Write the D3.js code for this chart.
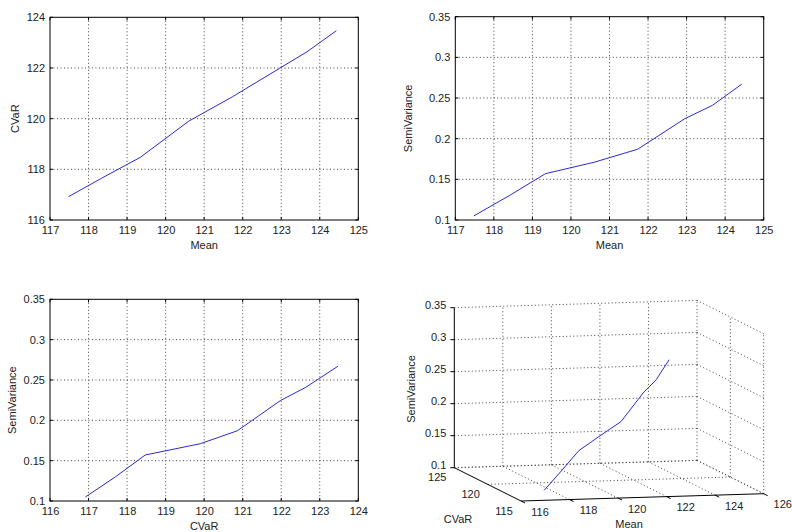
<!DOCTYPE html>
<html>
<head>
<meta charset="utf-8">
<script src="https://cdn.jsdelivr.net/npm/d3@7"></script>
<style>
  body { margin: 0; background: #fff; }
  svg { display: block; }
  text { font-family: "Liberation Sans", Arial, sans-serif; font-size: 11px; fill: #222; }
</style>
</head>
<body>
<svg width="792" height="532"></svg>
<script>
// frontier points
const meanVals = [117.48, 118.40, 119.34, 120.60, 121.73, 122.95, 123.67, 124.43]
const cvarVals = [116.92, 117.70, 118.47, 119.90, 120.86, 121.98, 122.64, 123.47]
const semiVals = [0.105, 0.130, 0.157, 0.171, 0.187, 0.2245, 0.241, 0.267]

const meanTicks = [117, 118, 119, 120, 121, 122, 123, 124, 125]
const cvarTicks = [116, 117, 118, 119, 120, 121, 122, 123, 124]
const cvarTicksY = [116, 118, 120, 122, 124]
const semiTicks = [0.1, 0.15, 0.2, 0.25, 0.3, 0.35]

const mean3dTicks = [116, 118, 120, 122, 124, 126]
const cvar3dTicks = [115, 120, 125]

const lineColor = "#2b2bd0"
const svg = d3.select("svg")

function panel2d(box, xs, ys, xTicks, yTicks, xLabel, yLabel, yLabelX) {
    const x = d3.scaleLinear().domain([xTicks[0], xTicks[xTicks.length - 1]]).range([box.x0, box.x1])
    const y = d3.scaleLinear().domain([yTicks[0], yTicks[yTicks.length - 1]]).range([box.y1, box.y0])
    const g = svg.append("g")

    // dotted grid
    g.selectAll(".gx").data(xTicks.slice(1, -1)).enter().append("line")
        .attr("x1", d => x(d)).attr("x2", d => x(d))
        .attr("y1", box.y0).attr("y2", box.y1)
        .attr("stroke", "#444").attr("stroke-dasharray", "1,2.5")
    g.selectAll(".gy").data(yTicks.slice(1, -1)).enter().append("line")
        .attr("y1", d => y(d)).attr("y2", d => y(d))
        .attr("x1", box.x0).attr("x2", box.x1)
        .attr("stroke", "#444").attr("stroke-dasharray", "1,2.5")

    // inner ticks
    g.selectAll(".tb").data(xTicks).enter().append("path")
        .attr("d", d => "M" + x(d) + "," + box.y1 + "v-3M" + x(d) + "," + box.y0 + "v3")
        .attr("stroke", "#000")
    g.selectAll(".tl").data(yTicks).enter().append("path")
        .attr("d", d => "M" + box.x0 + "," + y(d) + "h3M" + box.x1 + "," + y(d) + "h-3")
        .attr("stroke", "#000")

    g.append("rect")
        .attr("x", box.x0).attr("y", box.y0)
        .attr("width", box.x1 - box.x0).attr("height", box.y1 - box.y0)
        .attr("fill", "none").attr("stroke", "#000")

    const xa = g.append("g").attr("transform", "translate(0," + box.y1 + ")")
        .call(d3.axisBottom(x).tickValues(xTicks).tickSize(0).tickPadding(6).tickFormat(d3.format("d")))
    const ya = g.append("g").attr("transform", "translate(" + box.x0 + ",0)")
        .call(d3.axisLeft(y).tickValues(yTicks).tickSize(0).tickPadding(5).tickFormat(d => String(+d.toFixed(2))))
    xa.select(".domain").remove()
    ya.select(".domain").remove()
    g.selectAll(".tick text").attr("font-size", "11px").attr("fill", "#222")
        .attr("font-family", "Liberation Sans, Arial, sans-serif")

    const pts = xs.map((v, i) => [v, ys[i]])
    g.append("path").datum(pts)
        .attr("d", d3.line().x(d => x(d[0])).y(d => y(d[1])))
        .attr("fill", "none").attr("stroke", lineColor).attr("stroke-width", 1)

    g.append("text").attr("x", (box.x0 + box.x1) / 2).attr("y", box.y1 + 29)
        .attr("text-anchor", "middle").text(xLabel)
    g.append("text").attr("transform", "translate(" + yLabelX + "," + (box.y0 + box.y1) / 2 + ") rotate(-90)")
        .attr("text-anchor", "middle").text(yLabel)
}

panel2d({x0: 50, x1: 358.3, y0: 17.3, y1: 220}, meanVals, cvarVals, meanTicks, cvarTicksY, "Mean", "CVaR", 19)
panel2d({x0: 455.3, x1: 763.7, y0: 16.7, y1: 220}, meanVals, semiVals, meanTicks, semiTicks, "Mean", "SemiVariance", 411.5)
panel2d({x0: 50, x1: 358.3, y0: 299.3, y1: 501}, cvarVals, semiVals, cvarTicks, semiTicks, "CVaR", "SemiVariance", 15.5)

// 3d panel: oblique projection of (mean, cvar, semivariance)
const m3 = d3.scaleLinear().domain([116, 126]).range([0, 1])
const c3 = d3.scaleLinear().domain([115, 125]).range([0, 1])
const z3 = d3.scaleLinear().domain([0.1, 0.35]).range([0, -160])
const origin = [521, 501]
const eM = [242.7, -7.3]
const eC = [-66.7, -33.3]
function P(m, c, z) {
    return [origin[0] + m3(m) * eM[0] + c3(c) * eC[0],
            origin[1] + m3(m) * eM[1] + c3(c) * eC[1] + z3(z)]
}

const g3 = svg.append("g")
const segs = []
semiTicks.forEach(z => {
    segs.push([P(116, 125, z), P(126, 125, z)])
    segs.push([P(126, 125, z), P(126, 115, z)])
})
mean3dTicks.slice(1).forEach(m => {
    segs.push([P(m, 125, 0.1), P(m, 125, 0.35)])
    segs.push([P(m, 115, 0.1), P(m, 125, 0.1)])
})
cvar3dTicks.slice(0, -1).forEach(c => {
    segs.push([P(126, c, 0.1), P(126, c, 0.35)])
})
cvar3dTicks.slice(1).forEach(c => {
    segs.push([P(116, c, 0.1), P(126, c, 0.1)])
})
g3.selectAll(".grid3").data(segs).enter().append("line")
    .attr("x1", d => d[0][0]).attr("y1", d => d[0][1])
    .attr("x2", d => d[1][0]).attr("y2", d => d[1][1])
    .attr("stroke", "#444").attr("stroke-dasharray", "1,2.5")

// solid axes
const axes3 = [
    [P(116, 125, 0.1), P(116, 125, 0.35)],
    [P(116, 125, 0.1), P(116, 115, 0.1)],
    [P(116, 115, 0.1), P(126, 115, 0.1)]
]
g3.selectAll(".ax3").data(axes3).enter().append("line")
    .attr("x1", d => d[0][0]).attr("y1", d => d[0][1])
    .attr("x2", d => d[1][0]).attr("y2", d => d[1][1])
    .attr("stroke", "#000")

// ticks and labels
g3.selectAll(".zt").data(semiTicks).enter().append("path")
    .attr("d", d => { const p = P(116, 125, d); return "M" + p[0] + "," + p[1] + "h-4" })
    .attr("stroke", "#000")
g3.selectAll(".zl").data(semiTicks).enter().append("text")
    .attr("x", d => P(116, 125, d)[0] - 8).attr("y", d => P(116, 125, d)[1] - 2)
    .attr("dy", "0.32em").attr("text-anchor", "end")
    .text(d => String(+d.toFixed(2)))
g3.selectAll(".mt").data(mean3dTicks).enter().append("path")
    .attr("d", d => { const p = P(d, 115, 0.1); return "M" + p[0] + "," + p[1] + "l4,2" })
    .attr("stroke", "#000")
g3.selectAll(".ml").data(mean3dTicks).enter().append("text")
    .attr("x", d => P(d, 115, 0.1)[0] + 19).attr("y", d => P(d, 115, 0.1)[1] + 11)
    .attr("dy", "0.32em").attr("text-anchor", "middle").text(d => d)
g3.selectAll(".cl").data(cvar3dTicks).enter().append("text")
    .attr("x", d => P(116, d, 0.1)[0] - 17).attr("y", d => P(116, d, 0.1)[1] + 10)
    .attr("dy", "0.32em").attr("text-anchor", "middle").text(d => d)

g3.append("text").attr("x", 629).attr("y", 528).attr("text-anchor", "middle").text("Mean")
g3.append("text").attr("x", 458).attr("y", 523).attr("text-anchor", "middle").text("CVaR")
g3.append("text").attr("transform", "translate(415,389) rotate(-90)")
    .attr("text-anchor", "middle").text("SemiVariance")

const pts3 = meanVals.map((m, i) => P(m, cvarVals[i], semiVals[i]))
g3.append("path").datum(pts3)
    .attr("d", d3.line())
    .attr("fill", "none").attr("stroke", lineColor).attr("stroke-width", 1)
</script>
</body>
</html>
